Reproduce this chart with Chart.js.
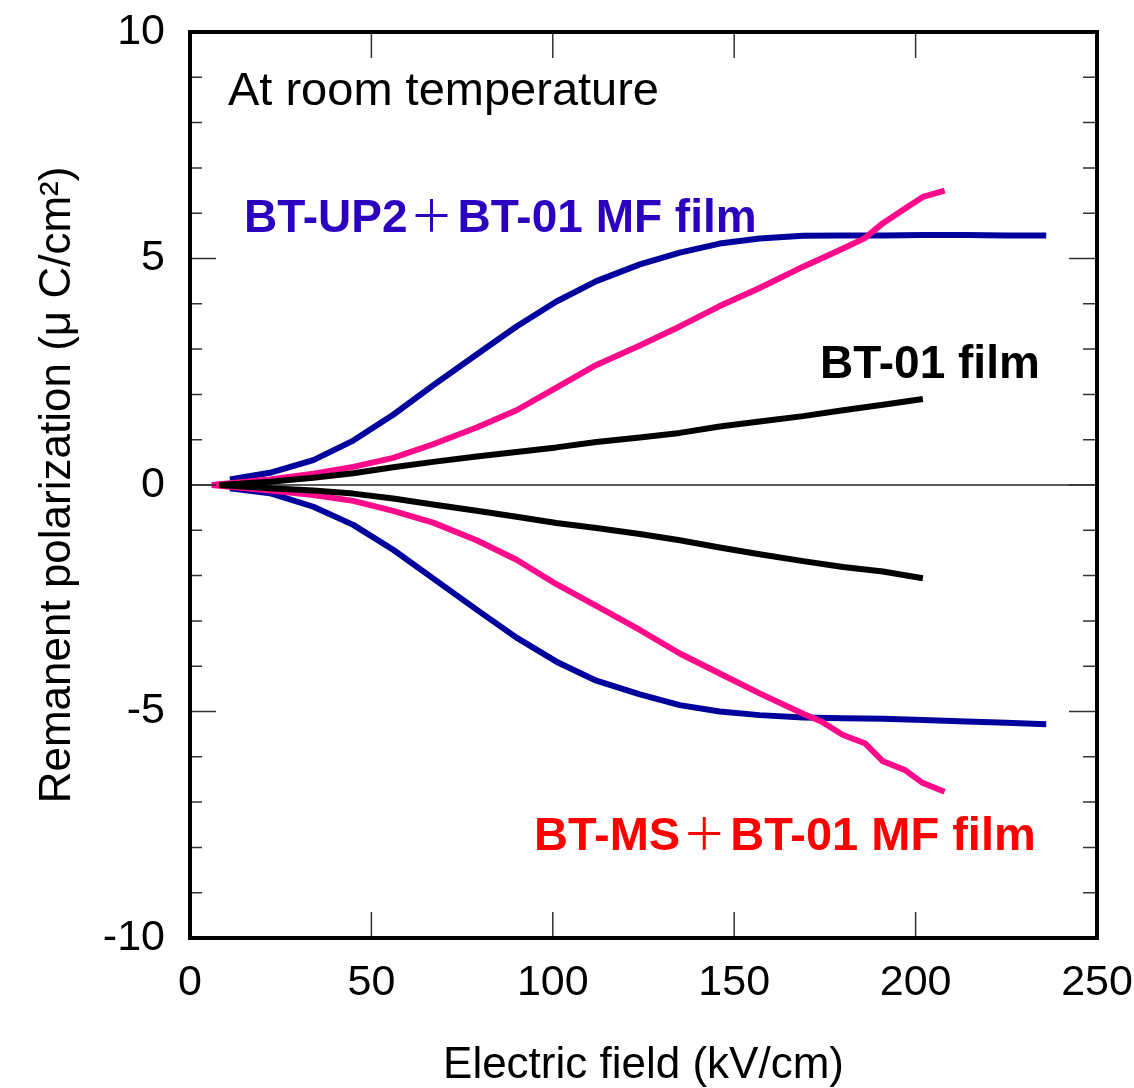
<!DOCTYPE html>
<html>
<head>
    <title>Remanent polarization</title>
    <script src="https://cdn.jsdelivr.net/npm/chart.js"></script>
    <style>
        body { margin: 0; background: #fff; }
        #wrap { width: 1134px; height: 1088px; }
    </style>
</head>
<body>
    <div id="wrap"><canvas id="grafico"></canvas></div>

    <script>
        // Electric field (kV/cm) and remanent polarization (uC/cm2)
        const campoAzul = [11, 22, 34, 45, 56, 67, 79, 90, 101, 112, 124, 135, 146, 157, 169, 180, 191, 202, 214, 225, 236];
        const azulPos = [0.12, 0.27, 0.55, 0.98, 1.55, 2.2, 2.88, 3.5, 4.05, 4.5, 4.87, 5.13, 5.33, 5.44, 5.5, 5.51, 5.51, 5.52, 5.52, 5.51, 5.51];
        const azulNeg = [-0.07, -0.18, -0.48, -0.88, -1.43, -2.06, -2.75, -3.37, -3.9, -4.32, -4.62, -4.86, -5.0, -5.08, -5.13, -5.15, -5.16, -5.19, -5.22, -5.25, -5.28];

        const campoRosa = [6, 11, 22, 34, 45, 56, 67, 79, 90, 101, 112, 124, 135, 146, 157, 169, 174, 180, 186, 191, 197, 202, 208];
        const rosaPos = [0, 0.04, 0.12, 0.25, 0.4, 0.6, 0.9, 1.27, 1.65, 2.15, 2.65, 3.08, 3.5, 3.95, 4.35, 4.82, 5.0, 5.22, 5.45, 5.78, 6.1, 6.36, 6.5];
        const rosaNeg = [0, -0.04, -0.12, -0.22, -0.35, -0.57, -0.83, -1.22, -1.65, -2.19, -2.67, -3.2, -3.72, -4.16, -4.6, -5.05, -5.22, -5.52, -5.7, -6.1, -6.29, -6.58, -6.77];

        const campoNegro = [8, 22, 34, 45, 56, 67, 79, 90, 101, 112, 124, 135, 146, 157, 169, 180, 191, 202];
        const negroPos = [0, 0.07, 0.16, 0.26, 0.39, 0.51, 0.63, 0.73, 0.83, 0.95, 1.05, 1.15, 1.29, 1.4, 1.52, 1.65, 1.77, 1.9];
        const negroNeg = [0, -0.07, -0.12, -0.19, -0.3, -0.43, -0.57, -0.7, -0.84, -0.95, -1.08, -1.22, -1.38, -1.53, -1.68, -1.81, -1.91, -2.06];

        const ticksX = [0, 50, 100, 150, 200, 250];
        const ticksY = [-10, -5, 0, 5, 10];

        const fuente = '"Liberation Sans", Arial, sans-serif';

        function puntos(xs, ys) {
            return xs.map((x, i) => ({ x: x, y: ys[i] }));
        }

        function serie(xs, ys, color, orden) {
            return {
                data: puntos(xs, ys),
                showLine: true,
                borderColor: color,
                borderWidth: 6,
                borderCapStyle: 'butt',
                borderJoinStyle: 'round',
                pointRadius: 0,
                tension: 0,
                order: orden
            };
        }

        // Escribe un texto en partes con fuentes distintas
        function textoPartes(ctx, x, y, partes) {
            ctx.textBaseline = 'alphabetic';
            ctx.textAlign = 'left';
            partes.forEach(p => {
                ctx.font = p.font;
                ctx.fillStyle = p.color;
                ctx.fillText(p.text, x, y);
                x += ctx.measureText(p.text).width + (p.gap || 0);
            });
        }

        // Quitar el relleno automático que Chart.js deja para las etiquetas
        function sinRelleno(s) {
            s.paddingLeft = 0;
            s.paddingRight = 0;
            s.paddingTop = 0;
            s.paddingBottom = 0;
        }

        const marco = {
            id: 'marco',
            beforeDatasetsDraw(chart) {
                const { ctx, chartArea: a, scales } = chart;
                const y0 = scales.y.getPixelForValue(0);
                ctx.save();
                ctx.strokeStyle = '#222';
                ctx.lineWidth = 1.5;
                ctx.beginPath();
                ctx.moveTo(a.left, y0);
                ctx.lineTo(a.right, y0);
                ctx.stroke();
                ctx.restore();
            },
            afterDatasetsDraw(chart) {
                const { ctx, chartArea: a, scales } = chart;
                ctx.save();
                ctx.strokeStyle = '#333';
                ctx.lineWidth = 1.5;
                ctx.beginPath();
                for (let v = -9; v <= 9; v++) {
                    const py = scales.y.getPixelForValue(v);
                    const mayor = v % 5 === 0;
                    ctx.moveTo(a.left, py);
                    ctx.lineTo(a.left + (mayor ? 26 : 12), py);
                    ctx.moveTo(a.right, py);
                    ctx.lineTo(a.right - (mayor ? 28 : 14), py);
                }
                ticksX.slice(1, -1).forEach(v => {
                    const px = scales.x.getPixelForValue(v);
                    ctx.moveTo(px, a.top);
                    ctx.lineTo(px, a.top + 26);
                    ctx.moveTo(px, a.bottom);
                    ctx.lineTo(px, a.bottom - 26);
                });
                ctx.stroke();

                ctx.strokeStyle = '#000';
                ctx.lineWidth = 4;
                ctx.strokeRect(a.left, a.top, a.right - a.left, a.bottom - a.top);

                // Rótulos dentro del gráfico
                textoPartes(ctx, 228, 105, [
                    { text: 'At room temperature', font: '47px ' + fuente, color: '#000' }
                ]);
                textoPartes(ctx, 244, 232, [
                    { text: 'BT-UP2', font: 'bold 46px ' + fuente, color: '#2b00bf', gap: 2 },
                    { text: '＋', font: '44px "Noto Sans CJK JP"', color: '#2b00bf', gap: 4 },
                    { text: 'BT-01 MF film', font: 'bold 46px ' + fuente, color: '#2b00bf' }
                ]);
                textoPartes(ctx, 820, 378, [
                    { text: 'BT-01 film', font: 'bold 46px ' + fuente, color: '#000' }
                ]);
                textoPartes(ctx, 534, 850, [
                    { text: 'BT-MS', font: 'bold 47px ' + fuente, color: '#ff0000', gap: 2 },
                    { text: '＋', font: '44px "Noto Sans CJK JP"', color: '#ff0000', gap: 4 },
                    { text: 'BT-01 MF film', font: 'bold 47px ' + fuente, color: '#ff0000' }
                ]);
                ctx.restore();
            }
        };

        new Chart(document.getElementById('grafico').getContext('2d'), {
            type: 'scatter',
            data: {
                datasets: [
                    serie(campoNegro, negroPos, '#000000', 1),
                    serie(campoNegro, negroNeg, '#000000', 1),
                    serie(campoRosa, rosaPos, '#ff0a8a', 2),
                    serie(campoRosa, rosaNeg, '#ff0a8a', 2),
                    serie(campoAzul, azulPos, '#00009c', 3),
                    serie(campoAzul, azulNeg, '#00009c', 3)
                ]
            },
            options: {
                responsive: true,
                maintainAspectRatio: false,
                animation: false,
                layout: { padding: { left: 0, right: 37, top: 32, bottom: 0 } },
                plugins: {
                    legend: { display: false },
                    tooltip: { enabled: false }
                },
                scales: {
                    x: {
                        type: 'linear',
                        min: 0,
                        max: 250,
                        afterFit: s => { s.height = 150; sinRelleno(s); },
                        afterBuildTicks: s => { s.ticks = ticksX.map(v => ({ value: v })); },
                        grid: { display: false, drawTicks: false },
                        border: { display: false },
                        ticks: {
                            padding: 19,
                            color: '#000',
                            font: { family: fuente, size: 43 },
                            maxRotation: 0
                        },
                        title: {
                            display: true,
                            text: 'Electric field (kV/cm)',
                            color: '#000',
                            font: { family: fuente, size: 44, lineHeight: 1 },
                            padding: { top: 0, bottom: 0 }
                        }
                    },
                    y: {
                        type: 'linear',
                        min: -10,
                        max: 10,
                        afterFit: s => { s.width = 190; sinRelleno(s); },
                        afterBuildTicks: s => { s.ticks = ticksY.map(v => ({ value: v })); },
                        grid: { display: false, drawTicks: false },
                        border: { display: false },
                        ticks: {
                            padding: 25,
                            color: '#000',
                            font: { family: fuente, size: 43 }
                        },
                        title: {
                            display: true,
                            text: 'Remanent polarization (μ C/cm²)',
                            color: '#000',
                            font: { family: fuente, size: 44, lineHeight: 1 },
                            padding: { top: 36, bottom: 0 }
                        }
                    }
                }
            },
            plugins: [marco]
        });
    </script>
</body>
</html>
